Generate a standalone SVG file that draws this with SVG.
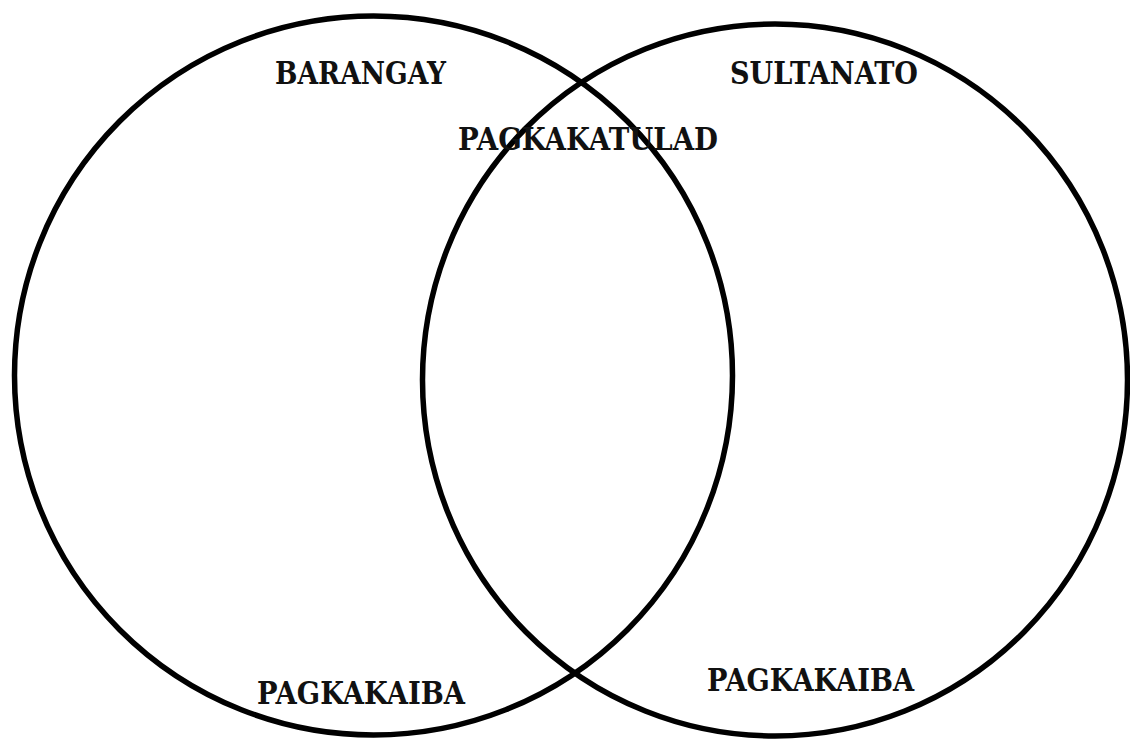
<svg xmlns="http://www.w3.org/2000/svg" width="1130" height="740" viewBox="0 0 1130 740">
<style>
.c{fill:none;stroke:#000;stroke-width:5.5}
.t{font-family:"DejaVu Serif","Liberation Serif",serif;font-weight:bold;font-size:32px;fill:#111}
</style>
<rect width="1130" height="740" fill="#fff"/>
<g id="barangay">
<ellipse class="c" cx="373.5" cy="375.5" rx="359" ry="359.5"/>
<text class="t" x="275" y="84" textLength="171" lengthAdjust="spacingAndGlyphs">BARANGAY</text>
<text class="t" x="257" y="704" textLength="208" lengthAdjust="spacingAndGlyphs">PAGKAKAIBA</text>
</g>
<g id="sultanato">
<ellipse class="c" cx="775" cy="380" rx="352.5" ry="356"/>
<text class="t" x="730" y="84" textLength="188" lengthAdjust="spacingAndGlyphs">SULTANATO</text>
<text class="t" x="707" y="691" textLength="207" lengthAdjust="spacingAndGlyphs">PAGKAKAIBA</text>
</g>
<g id="pagkakatulad">
<text class="t" x="458" y="150" textLength="260" lengthAdjust="spacingAndGlyphs">PAGKAKATULAD</text>
</g>
<g id="connectors"/>
</svg>
